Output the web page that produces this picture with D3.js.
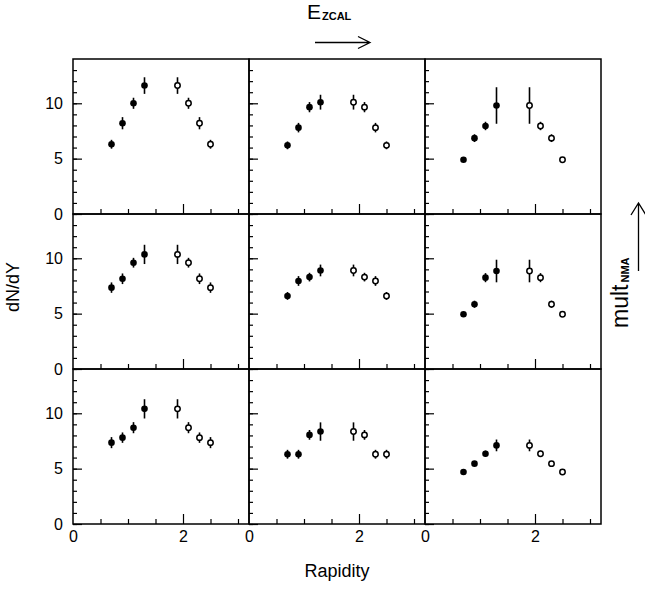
<!DOCTYPE html>
<html><head><meta charset="utf-8">
<script src="https://cdn.jsdelivr.net/npm/d3@7"></script>
<style>
body{margin:0;background:#fff}
text{font-family:"Liberation Sans",Arial,Helvetica,sans-serif;fill:#000}
</style>
</head><body>
<svg id="c" width="645" height="591"></svg>
<script>
// ---- data ----
const rapidityFilled = [0.7, 0.9, 1.1, 1.3];
const rapidityOpen   = [1.9, 2.1, 2.3, 2.5];
// panels in reading order: row1 (c1,c2,c3), row2, row3
const dndyFilled = [
  [6.3, 8.2, 10.0, 11.6],
  [6.2, 7.8, 9.65, 10.1],
  [4.9, 6.85, 7.95, 9.8],
  [7.35, 8.15, 9.6, 10.35],
  [6.6, 7.95, 8.3, 8.9],
  [4.95, 5.85, 8.25, 8.85],
  [7.35, 7.8, 8.7, 10.4],
  [6.3, 6.3, 8.05, 8.35],
  [4.7, 5.45, 6.35, 7.1]
];
const errFilled = [
  [0.4, 0.55, 0.5, 0.75],
  [0.35, 0.43, 0.46, 0.67],
  [0.2, 0.35, 0.38, 1.65],
  [0.47, 0.48, 0.44, 0.87],
  [0.35, 0.44, 0.39, 0.53],
  [0.2, 0.32, 0.41, 1.02],
  [0.5, 0.47, 0.5, 0.87],
  [0.4, 0.4, 0.44, 0.83],
  [0.2, 0.22, 0.28, 0.53]
];
const dndyOpen = [
  [11.6, 10.0, 8.2, 6.3],
  [10.1, 9.65, 7.8, 6.2],
  [9.8, 7.95, 6.85, 4.9],
  [10.35, 9.6, 8.15, 7.35],
  [8.9, 8.3, 7.95, 6.6],
  [8.85, 8.25, 5.85, 4.95],
  [10.4, 8.7, 7.8, 7.35],
  [8.35, 8.05, 6.3, 6.3],
  [7.1, 6.35, 5.45, 4.7]
];
const errOpen = [
  [0.75, 0.5, 0.55, 0.4],
  [0.67, 0.46, 0.43, 0.35],
  [1.65, 0.38, 0.35, 0.2],
  [0.87, 0.44, 0.48, 0.47],
  [0.53, 0.39, 0.44, 0.35],
  [1.02, 0.41, 0.32, 0.2],
  [0.87, 0.5, 0.47, 0.5],
  [0.83, 0.44, 0.4, 0.4],
  [0.53, 0.28, 0.22, 0.2]
];
const yTickLabels = [0, 5, 10];
const yMinorTicks = [0,1,2,3,4,5,6,7,8,9,10,11,12,13];
const xTickLabels = [0, 2];
const xMinorTicks = [0.5, 1, 1.5, 2.5, 3];
const xDomain = [0, 3.2];
const yDomain = [0, 14];

// ---- layout ----
const svg = d3.select("#c");
const colX = [73, 249, 425], colW = 176;
const rowY = [59, 214, 369], rowH = 155;

for (let r = 0; r < 3; r++) {
  for (let c = 0; c < 3; c++) {
    const p = r * 3 + c;
    const x = d3.scaleLinear().domain(xDomain).range([colX[c], colX[c] + colW]);
    const y = d3.scaleLinear().domain(yDomain).range([rowY[r] + rowH, rowY[r]]);
    const g = svg.append("g");

    // left axis ticks (inward)
    g.append("g").attr("transform", `translate(${colX[c]},0)`)
      .call(d3.axisRight(y).tickValues(yMinorTicks).tickSize(4).tickFormat(""))
      .call(a => a.select(".domain").remove())
      .call(a => a.selectAll("line").attr("stroke", "#000").attr("stroke-width", 1.2));
    g.append("g").attr("transform", `translate(${colX[c]},0)`)
      .call(d3.axisRight(y).tickValues(yTickLabels).tickSize(9).tickFormat(""))
      .call(a => a.select(".domain").remove())
      .call(a => a.selectAll("line").attr("stroke", "#000").attr("stroke-width", 1.2));
    // bottom axis ticks (inward)
    g.append("g").attr("transform", `translate(0,${rowY[r] + rowH})`)
      .call(d3.axisTop(x).tickValues(xMinorTicks).tickSize(5).tickFormat(""))
      .call(a => a.select(".domain").remove())
      .call(a => a.selectAll("line").attr("stroke", "#000").attr("stroke-width", 1.2));
    g.append("g").attr("transform", `translate(0,${rowY[r] + rowH})`)
      .call(d3.axisTop(x).tickValues([2]).tickSize(10).tickFormat(""))
      .call(a => a.select(".domain").remove())
      .call(a => a.selectAll("line").attr("stroke", "#000").attr("stroke-width", 1.2));

    if (c === 0) {
      g.append("g").attr("transform", `translate(${colX[c]},0)`)
        .call(d3.axisLeft(y).tickValues(yTickLabels).tickSize(0).tickPadding(10).tickFormat(d3.format("d")))
        .call(a => a.select(".domain").remove())
        .call(a => a.selectAll("text").attr("font-size", 16).attr("font-family", null).style("fill", "#000"));
    }
    if (r === 2) {
      g.append("g").attr("transform", `translate(0,${rowY[r] + rowH})`)
        .call(d3.axisBottom(x).tickValues(xTickLabels).tickSize(0).tickPadding(7).tickFormat(d3.format("d")))
        .call(a => a.select(".domain").remove())
        .call(a => a.selectAll("text").attr("font-size", 16).attr("font-family", null).style("fill", "#000"));
    }

    // frame
    g.append("rect").attr("x", colX[c]).attr("y", rowY[r]).attr("width", colW).attr("height", rowH)
      .attr("fill", "none").attr("stroke", "#000").attr("stroke-width", 1.5);

    // error bars
    const fd = rapidityFilled.map((xv, i) => ({x: xv, y: dndyFilled[p][i], e: errFilled[p][i]}));
    const od = rapidityOpen.map((xv, i) => ({x: xv, y: dndyOpen[p][i], e: errOpen[p][i]}));
    g.selectAll(".eb").data(fd.concat(od)).enter().append("line")
      .attr("x1", d => x(d.x)).attr("x2", d => x(d.x))
      .attr("y1", d => y(d.y - d.e)).attr("y2", d => y(d.y + d.e))
      .attr("stroke", "#000").attr("stroke-width", 1.6);
    g.selectAll(".fm").data(fd).enter().append("circle")
      .attr("cx", d => x(d.x)).attr("cy", d => y(d.y)).attr("r", 3.3).attr("fill", "#000");
    g.selectAll(".om").data(od).enter().append("circle")
      .attr("cx", d => x(d.x)).attr("cy", d => y(d.y)).attr("r", 2.7)
      .attr("fill", "#fff").attr("stroke", "#000").attr("stroke-width", 1.5);
  }
}

// axis titles
svg.append("text").attr("x", 337).attr("y", 577).attr("text-anchor", "middle")
  .attr("font-size", 18).text("Rapidity");
svg.append("text").attr("transform", "translate(19,287) rotate(-90)").attr("text-anchor", "middle")
  .attr("font-size", 18).text("dN/dY");

// E_ZCAL with arrow
const et = svg.append("text").attr("x", 307).attr("y", 19).attr("font-size", 21);
et.append("tspan").text("E");
et.append("tspan").attr("font-size", 11).attr("font-weight", "bold").attr("dx", 1).attr("dy", 1).text("ZCAL");
svg.append("path").attr("d", "M315,42.5 L370,42.5 M358,36.5 L370,42.5 L358,48.5")
  .attr("fill", "none").attr("stroke", "#000").attr("stroke-width", 1.3);

// mult_NMA with arrow
const mt = svg.append("text").attr("transform", "translate(628,328) rotate(-90)").attr("font-size", 23);
mt.append("tspan").text("mult");
mt.append("tspan").attr("font-size", 11).attr("font-weight", "bold").attr("dx", 2).attr("dy", 1).text("NMA");
svg.append("path").attr("d", "M638.5,271 L638.5,203 M631,215 L638.5,203 L646,215")
  .attr("fill", "none").attr("stroke", "#000").attr("stroke-width", 1.3);
</script>
</body></html>
